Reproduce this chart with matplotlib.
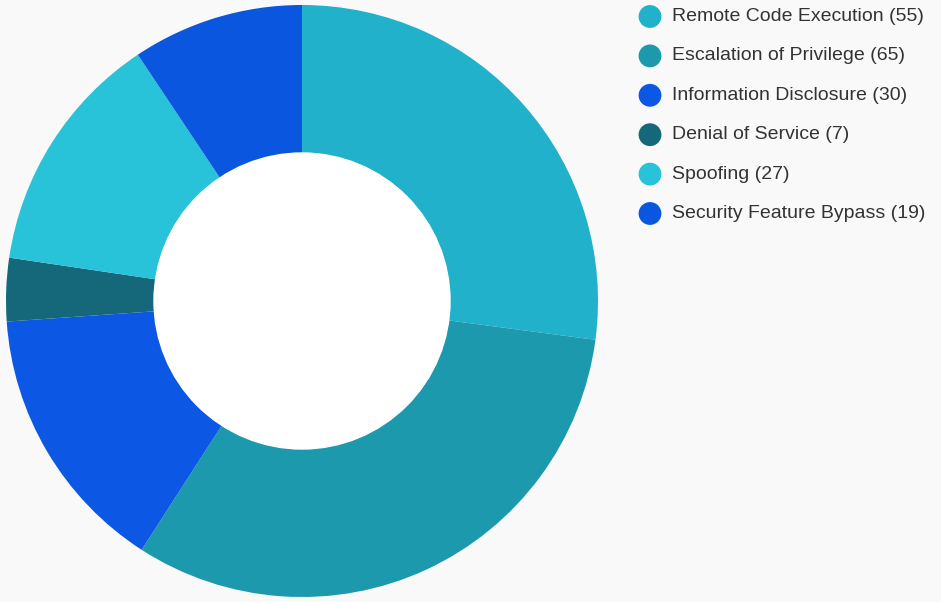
import matplotlib
matplotlib.use("Agg")
import matplotlib.pyplot as plt

categories = ["Remote Code Execution", "Escalation of Privilege", "Information Disclosure",
              "Denial of Service", "Spoofing", "Security Feature Bypass"]
values = [55, 65, 30, 7, 27, 19]
colors = ["#22b1cb", "#1d99ae", "#0c57e3", "#14687a", "#28c3d8", "#0b56df"]

plt.rcParams['font.family'] = ['Liberation Sans', 'DejaVu Sans']
W, H = 941, 602
fig = plt.figure(figsize=(W / 100, H / 100), dpi=100)
fig.patch.set_facecolor("#f9f9f9")

# donut
cx, cy, r = 302, 301, 296
ax = fig.add_axes([(cx - r) / W, (H - cy - r) / H, 2 * r / W, 2 * r / H])
ax.set_facecolor("none")
ax.pie(values, colors=colors, startangle=90, counterclock=False, radius=1.0,
       wedgeprops=dict(width=0.5, edgecolor="none"))
ax.add_patch(plt.Circle((0, 0), 0.5, color="white", zorder=5))
ax.set_xlim(-1, 1)
ax.set_ylim(-1, 1)
ax.set_aspect("equal")
ax.axis("off")

# legend
lax = fig.add_axes([0, 0, 1, 1])
lax.set_xlim(0, W)
lax.set_ylim(H, 0)
lax.axis("off")
lax.set_facecolor("none")
y0, dy = 16.5, 39.4
for i, (c, v, col) in enumerate(zip(categories, values, colors)):
    y = y0 + i * dy
    lax.scatter([650], [y], s=270, color=col, edgecolor="none")
    lax.text(672, y, f"{c} ({v})", fontsize=14.0, color="#333333", va="center", ha="left")

fig.savefig("out.png", dpi=100, facecolor=fig.get_facecolor())
